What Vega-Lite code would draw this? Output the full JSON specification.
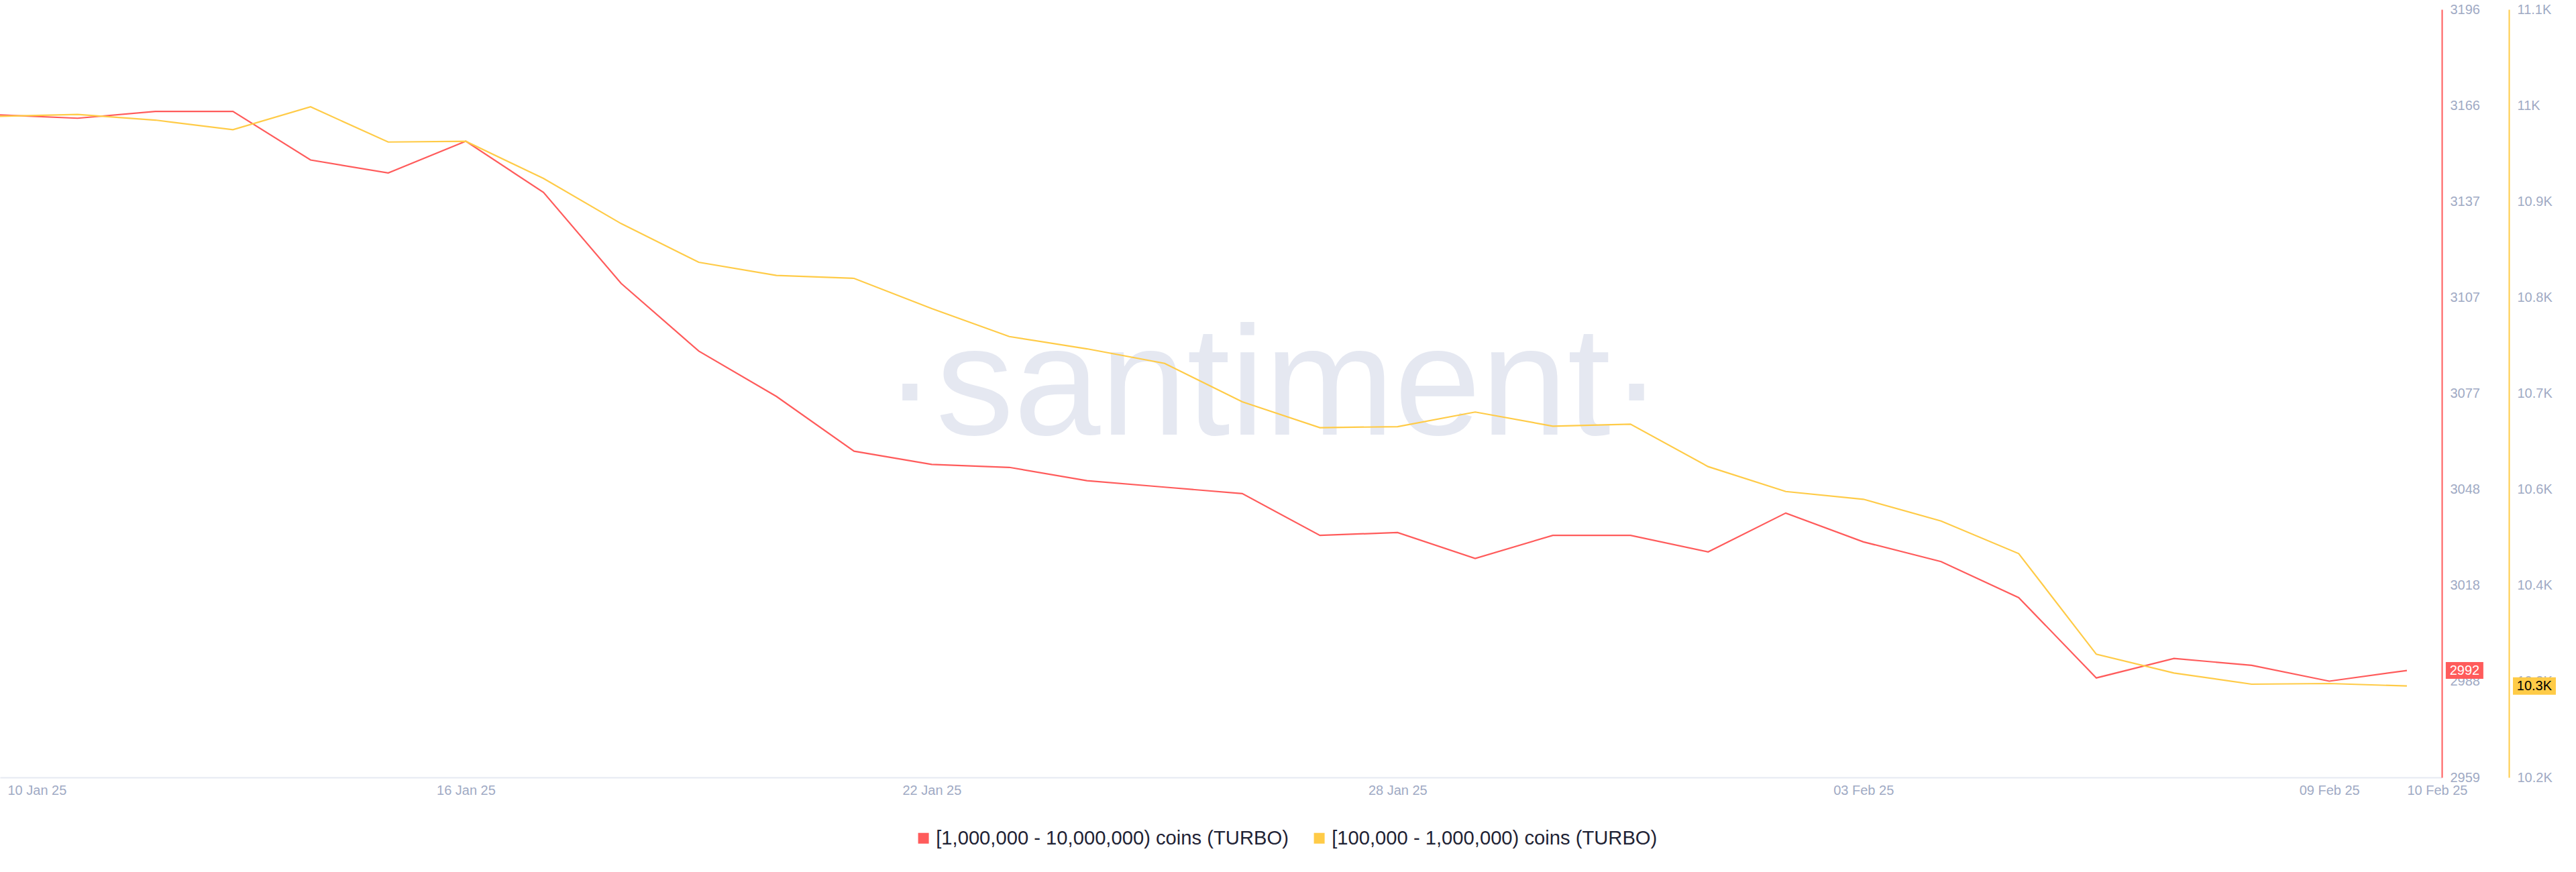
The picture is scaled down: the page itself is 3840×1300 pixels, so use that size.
{
  "$schema": "https://vega.github.io/schema/vega-lite/v6.json",
  "width": 3640,
  "height": 1145,
  "padding": {"left": 0, "top": 14, "right": 200, "bottom": 141},
  "autosize": {"type": "none"},
  "background": "#ffffff",
  "config": {"view": {"stroke": null}, "font": "Liberation Sans"},
  "data": {"values": [
    {"date": "2025-01-10", "series": "[1,000,000 - 10,000,000) coins (TURBO)", "value": 3163.2},
    {"date": "2025-01-11", "series": "[1,000,000 - 10,000,000) coins (TURBO)", "value": 3162.2},
    {"date": "2025-01-12", "series": "[1,000,000 - 10,000,000) coins (TURBO)", "value": 3164.3},
    {"date": "2025-01-13", "series": "[1,000,000 - 10,000,000) coins (TURBO)", "value": 3164.3},
    {"date": "2025-01-14", "series": "[1,000,000 - 10,000,000) coins (TURBO)", "value": 3149.3},
    {"date": "2025-01-15", "series": "[1,000,000 - 10,000,000) coins (TURBO)", "value": 3145.3},
    {"date": "2025-01-16", "series": "[1,000,000 - 10,000,000) coins (TURBO)", "value": 3155.1},
    {"date": "2025-01-17", "series": "[1,000,000 - 10,000,000) coins (TURBO)", "value": 3139.3},
    {"date": "2025-01-18", "series": "[1,000,000 - 10,000,000) coins (TURBO)", "value": 3111.2},
    {"date": "2025-01-19", "series": "[1,000,000 - 10,000,000) coins (TURBO)", "value": 3090.3},
    {"date": "2025-01-20", "series": "[1,000,000 - 10,000,000) coins (TURBO)", "value": 3076.3},
    {"date": "2025-01-21", "series": "[1,000,000 - 10,000,000) coins (TURBO)", "value": 3059.4},
    {"date": "2025-01-22", "series": "[1,000,000 - 10,000,000) coins (TURBO)", "value": 3055.3},
    {"date": "2025-01-23", "series": "[1,000,000 - 10,000,000) coins (TURBO)", "value": 3054.4},
    {"date": "2025-01-24", "series": "[1,000,000 - 10,000,000) coins (TURBO)", "value": 3050.3},
    {"date": "2025-01-25", "series": "[1,000,000 - 10,000,000) coins (TURBO)", "value": 3048.3},
    {"date": "2025-01-26", "series": "[1,000,000 - 10,000,000) coins (TURBO)", "value": 3046.3},
    {"date": "2025-01-27", "series": "[1,000,000 - 10,000,000) coins (TURBO)", "value": 3033.4},
    {"date": "2025-01-28", "series": "[1,000,000 - 10,000,000) coins (TURBO)", "value": 3034.3},
    {"date": "2025-01-29", "series": "[1,000,000 - 10,000,000) coins (TURBO)", "value": 3026.3},
    {"date": "2025-01-30", "series": "[1,000,000 - 10,000,000) coins (TURBO)", "value": 3033.4},
    {"date": "2025-01-31", "series": "[1,000,000 - 10,000,000) coins (TURBO)", "value": 3033.4},
    {"date": "2025-02-01", "series": "[1,000,000 - 10,000,000) coins (TURBO)", "value": 3028.3},
    {"date": "2025-02-02", "series": "[1,000,000 - 10,000,000) coins (TURBO)", "value": 3040.3},
    {"date": "2025-02-03", "series": "[1,000,000 - 10,000,000) coins (TURBO)", "value": 3031.4},
    {"date": "2025-02-04", "series": "[1,000,000 - 10,000,000) coins (TURBO)", "value": 3025.3},
    {"date": "2025-02-05", "series": "[1,000,000 - 10,000,000) coins (TURBO)", "value": 3014.2},
    {"date": "2025-02-06", "series": "[1,000,000 - 10,000,000) coins (TURBO)", "value": 2989.4},
    {"date": "2025-02-07", "series": "[1,000,000 - 10,000,000) coins (TURBO)", "value": 2995.4},
    {"date": "2025-02-08", "series": "[1,000,000 - 10,000,000) coins (TURBO)", "value": 2993.3},
    {"date": "2025-02-09", "series": "[1,000,000 - 10,000,000) coins (TURBO)", "value": 2988.4},
    {"date": "2025-02-10", "series": "[1,000,000 - 10,000,000) coins (TURBO)", "value": 2991.7},
    {"date": "2025-01-10", "series": "[100,000  - 1,000,000) coins (TURBO)", "value": 11004.0},
    {"date": "2025-01-11", "series": "[100,000  - 1,000,000) coins (TURBO)", "value": 11006.1},
    {"date": "2025-01-12", "series": "[100,000  - 1,000,000) coins (TURBO)", "value": 10999.4},
    {"date": "2025-01-13", "series": "[100,000  - 1,000,000) coins (TURBO)", "value": 10987.9},
    {"date": "2025-01-14", "series": "[100,000  - 1,000,000) coins (TURBO)", "value": 11015.3},
    {"date": "2025-01-15", "series": "[100,000  - 1,000,000) coins (TURBO)", "value": 10973.1},
    {"date": "2025-01-16", "series": "[100,000  - 1,000,000) coins (TURBO)", "value": 10974.0},
    {"date": "2025-01-17", "series": "[100,000  - 1,000,000) coins (TURBO)", "value": 10929.5},
    {"date": "2025-01-18", "series": "[100,000  - 1,000,000) coins (TURBO)", "value": 10875.4},
    {"date": "2025-01-19", "series": "[100,000  - 1,000,000) coins (TURBO)", "value": 10829.1},
    {"date": "2025-01-20", "series": "[100,000  - 1,000,000) coins (TURBO)", "value": 10813.3},
    {"date": "2025-01-21", "series": "[100,000  - 1,000,000) coins (TURBO)", "value": 10809.8},
    {"date": "2025-01-22", "series": "[100,000  - 1,000,000) coins (TURBO)", "value": 10773.6},
    {"date": "2025-01-23", "series": "[100,000  - 1,000,000) coins (TURBO)", "value": 10740.1},
    {"date": "2025-01-24", "series": "[100,000  - 1,000,000) coins (TURBO)", "value": 10725.4},
    {"date": "2025-01-25", "series": "[100,000  - 1,000,000) coins (TURBO)", "value": 10708.0},
    {"date": "2025-01-26", "series": "[100,000  - 1,000,000) coins (TURBO)", "value": 10662.0},
    {"date": "2025-01-27", "series": "[100,000  - 1,000,000) coins (TURBO)", "value": 10630.9},
    {"date": "2025-01-28", "series": "[100,000  - 1,000,000) coins (TURBO)", "value": 10632.2},
    {"date": "2025-01-29", "series": "[100,000  - 1,000,000) coins (TURBO)", "value": 10649.7},
    {"date": "2025-01-30", "series": "[100,000  - 1,000,000) coins (TURBO)", "value": 10632.8},
    {"date": "2025-01-31", "series": "[100,000  - 1,000,000) coins (TURBO)", "value": 10635.2},
    {"date": "2025-02-01", "series": "[100,000  - 1,000,000) coins (TURBO)", "value": 10584.3},
    {"date": "2025-02-02", "series": "[100,000  - 1,000,000) coins (TURBO)", "value": 10554.5},
    {"date": "2025-02-03", "series": "[100,000  - 1,000,000) coins (TURBO)", "value": 10545.2},
    {"date": "2025-02-04", "series": "[100,000  - 1,000,000) coins (TURBO)", "value": 10519.2},
    {"date": "2025-02-05", "series": "[100,000  - 1,000,000) coins (TURBO)", "value": 10480.1},
    {"date": "2025-02-06", "series": "[100,000  - 1,000,000) coins (TURBO)", "value": 10359.6},
    {"date": "2025-02-07", "series": "[100,000  - 1,000,000) coins (TURBO)", "value": 10337.1},
    {"date": "2025-02-08", "series": "[100,000  - 1,000,000) coins (TURBO)", "value": 10323.7},
    {"date": "2025-02-09", "series": "[100,000  - 1,000,000) coins (TURBO)", "value": 10324.5},
    {"date": "2025-02-10", "series": "[100,000  - 1,000,000) coins (TURBO)", "value": 10321.5}
  ]},
  "encoding": {
    "x": {
      "field": "date",
      "type": "temporal",
      "title": null,
      "scale": {
        "type": "utc",
        "domain": [
          {"year": 2025, "month": 1, "date": 10, "utc": true},
          {"year": 2025, "month": 2, "date": 10, "hours": 10, "minutes": 48, "utc": true}
        ]
      },
      "axis": {
        "values": [
          {"year": 2025, "month": 1, "date": 10, "utc": true},
          {"year": 2025, "month": 1, "date": 16, "utc": true},
          {"year": 2025, "month": 1, "date": 22, "utc": true},
          {"year": 2025, "month": 1, "date": 28, "utc": true},
          {"year": 2025, "month": 2, "date": 3, "utc": true},
          {"year": 2025, "month": 2, "date": 9, "utc": true},
          {"year": 2025, "month": 2, "date": 10, "utc": true}
        ],
        "format": "%d %b %y",
        "labelFontSize": 20,
        "labelColor": "#9faac4",
        "ticks": false,
        "grid": false,
        "domainColor": "#e5e9f2",
        "domainWidth": 2,
        "labelPadding": 9,
        "labelFlush": false,
        "labelOverlap": false,
        "labelAlign": {
          "condition": {"test": "datum.value < utc(2025,0,11) || datum.value > utc(2025,1,9,12)", "value": "left"},
          "value": "center"
        },
        "labelOffset": {
          "condition": {"test": "datum.value < utc(2025,0,11)", "value": 11},
          "value": 0
        }
      }
    }
  },
  "layer": [
    {
      "transform": [{"filter": "datum.series == '[1,000,000 - 10,000,000) coins (TURBO)'"}],
      "encoding": {
        "y": {
          "field": "value",
          "type": "quantitative",
          "title": null,
          "scale": {"domain": [2958.68, 3195.8], "nice": false, "zero": false},
          "axis": {
            "orient": "right",
            "offset": 0,
            "values": [2958.68, 2988.32, 3017.96, 3047.6, 3077.24, 3106.88, 3136.52, 3166.16, 3195.8],
            "format": ".0f",
            "ticks": false,
            "grid": false,
            "domainColor": "#ff5b5b",
            "domainWidth": 2,
            "labelColor": "#9faac4",
            "labelFontSize": 20,
            "labelPadding": 12,
            "labelFlush": false,
            "labelOverlap": false
          }
        }
      },
      "layer": [
        {
          "transform": [{"filter": "time(datum.date) == utc(2025,0,26)"}],
          "mark": {"type": "text", "text": "·santiment·", "font": "Liberation Sans", "fontSize": 232, "color": "#e5e8f1", "align": "center", "baseline": "alphabetic"},
          "encoding": {
            "x": {"datum": 1737884100000, "type": "temporal"},
            "y": {"datum": 3064.6, "type": "quantitative"}
          }
        },
        {
          "mark": {"type": "line", "strokeWidth": 2.2},
          "encoding": {
            "color": {
              "field": "series",
              "type": "nominal",
              "scale": {"domain": ["[1,000,000 - 10,000,000) coins (TURBO)", "[100,000  - 1,000,000) coins (TURBO)"], "range": ["#ff5b5b", "#ffcb47"]},
              "legend": {
                "orient": "none",
                "legendX": 1362,
                "legendY": 1221,
                "direction": "horizontal",
                "title": null,
                "symbolType": "square",
                "symbolSize": 256,
                "symbolStrokeWidth": 0,
                "labelFontSize": 29.2,
                "labelColor": "#1f2335",
                "labelOffset": 4,
                "columnPadding": 31,
                "labelLimit": 0,
                "encode": {"symbols": {"update": {"fill": {"scale": "color", "field": "value"}, "fillOpacity": {"value": 1}, "stroke": {"value": "transparent"}}}}
              }
            }
          }
        },
        {
          "transform": [{"filter": "time(datum.date) >= utc(2025,1,10)"}],
          "mark": {"type": "point", "shape": "M4.14,-0.89H8.14V0.89H4.14Z", "size": 784, "filled": true, "opacity": 1, "color": "#ff5b5b", "strokeWidth": 0}
        },
        {
          "transform": [{"filter": "time(datum.date) >= utc(2025,1,10)"}],
          "mark": {"type": "text", "dx": 86, "align": "center", "baseline": "middle", "fontSize": 20, "color": "#ffffff"},
          "encoding": {"text": {"field": "value", "type": "quantitative", "format": ".0f"}}
        }
      ]
    },
    {
      "transform": [{"filter": "datum.series == '[100,000  - 1,000,000) coins (TURBO)'"}],
      "encoding": {
        "y": {
          "field": "value",
          "type": "quantitative",
          "title": null,
          "scale": {"domain": [10212, 11132], "nice": false, "zero": false},
          "axis": {
            "orient": "right",
            "offset": 100,
            "values": [10212, 10327, 10442, 10557, 10672, 10787, 10902, 11017, 11132],
            "labelExpr": "format(datum.value / 1000, '.1~f') + 'K'",
            "ticks": false,
            "grid": false,
            "domainColor": "#ffcb47",
            "domainWidth": 2,
            "labelColor": "#9faac4",
            "labelFontSize": 20,
            "labelPadding": 12,
            "labelFlush": false,
            "labelOverlap": false
          }
        }
      },
      "layer": [
        {
          "mark": {"type": "line", "strokeWidth": 2.2},
          "encoding": {
            "color": {
              "field": "series",
              "type": "nominal",
              "scale": {"domain": ["[1,000,000 - 10,000,000) coins (TURBO)", "[100,000  - 1,000,000) coins (TURBO)"], "range": ["#ff5b5b", "#ffcb47"]}
            }
          }
        },
        {
          "transform": [{"filter": "time(datum.date) >= utc(2025,1,10)"}],
          "mark": {"type": "point", "shape": "M11.29,-0.93H15.86V0.93H11.29Z", "size": 784, "filled": true, "opacity": 1, "color": "#ffcb47", "strokeWidth": 0}
        },
        {
          "transform": [{"filter": "time(datum.date) >= utc(2025,1,10)"}],
          "mark": {"type": "text", "dx": 190, "align": "center", "baseline": "middle", "fontSize": 20, "color": "#000000", "text": {"expr": "upper(format(datum.value, '.3s'))"}}
        }
      ]
    }
  ],
  "resolve": {"scale": {"y": "independent"}}
}
